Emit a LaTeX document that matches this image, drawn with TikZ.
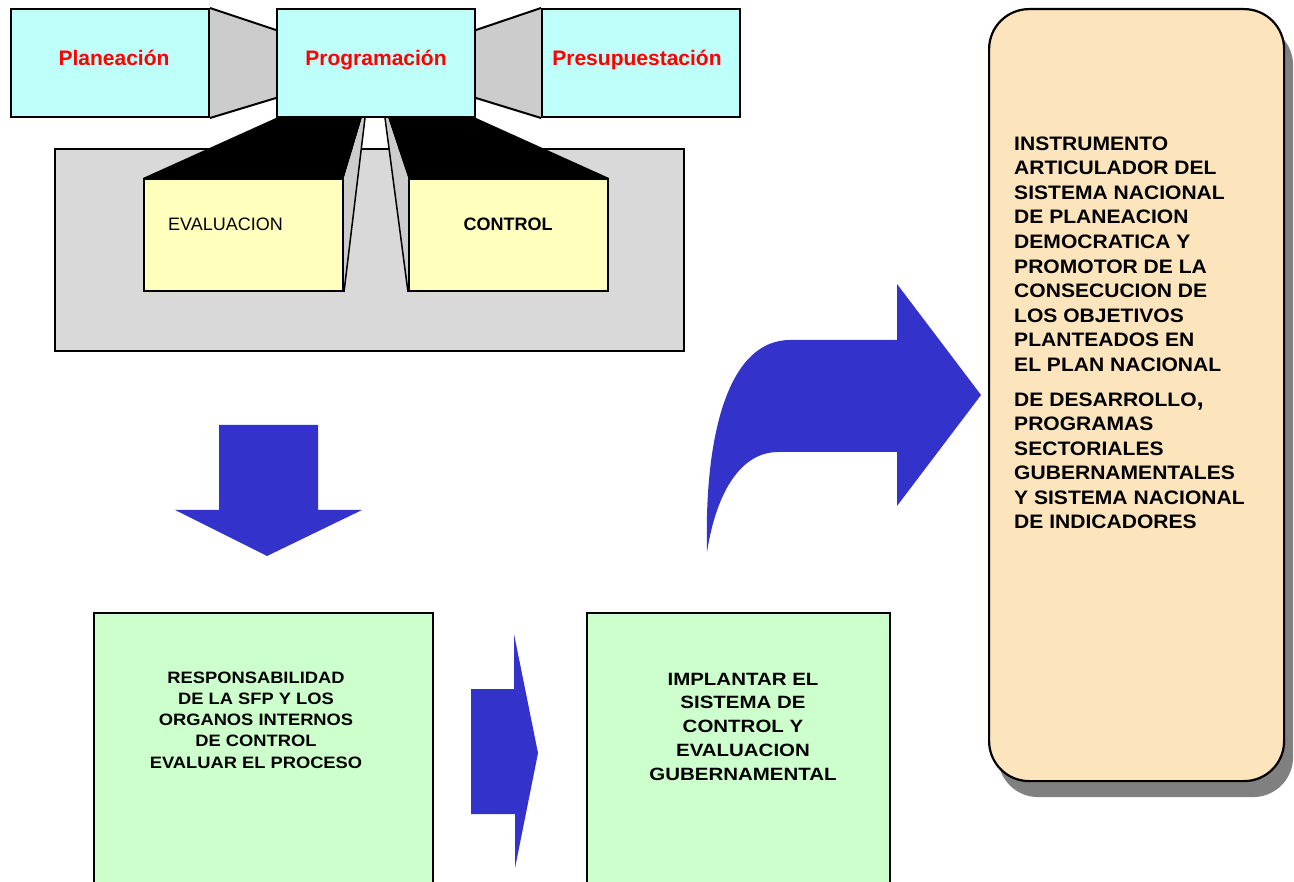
\documentclass[tikz,border=0pt]{standalone}
\usepackage{fontspec}
\setmainfont{Liberation Sans}
\newfontfamily\fwideA[FakeStretch=1.11]{Liberation Sans}
\newfontfamily\fwideB[FakeStretch=1.15]{Liberation Sans}
\newfontfamily\fwideC[FakeStretch=1.08]{Liberation Sans}
\usetikzlibrary{calc,shadows}
\definecolor{cyanbox}{RGB}{191,255,250}
\definecolor{yellowbox}{RGB}{255,255,190}
\definecolor{panelgray}{RGB}{217,217,217}
\definecolor{sidegray}{RGB}{204,204,204}
\definecolor{greenbox}{RGB}{204,255,204}
\definecolor{peachbox}{RGB}{252,228,188}
\definecolor{shadowgray}{RGB}{128,128,128}
\definecolor{arrowblue}{RGB}{51,51,204}
\definecolor{titlered}{RGB}{255,0,0}
\begin{document}
\begin{tikzpicture}[x=1pt,y=-1pt,
  box/.style={draw=black, line width=2pt, inner sep=0pt, anchor=north west},
  topbox/.style={box, fill=cyanbox, minimum width=198pt, minimum height=108pt},
  subbox/.style={box, fill=yellowbox, minimum width=199pt, minimum height=112pt},
  greenpanel/.style={box, fill=greenbox, line width=1.5pt},
  edge/.style={draw=black, line width=2pt},
  blockarrow/.style={fill=arrowblue},
  title/.style={anchor=base, text=titlered, font=\bfseries\fontsize{21}{25}\selectfont},
]
\useasboundingbox (0,0) rectangle (1294,882);
\clip (0,0) rectangle (1294,882);

% background panel behind the two sub-processes
\node[box, fill=panelgray, minimum width=629pt, minimum height=202pt] (panel) at (54,148) {};

% sub-process boxes
\node[subbox] (eval) at (143,178) {};
\node[subbox] (ctrl) at (408,178) {};

% top row boxes
\node[topbox] (plan) at (10,8) {};
\node[topbox] (prog) at (276,8) {};
\node[topbox] (pres) at (541,8) {};

% extruded faces from Programacion down to the sub-process boxes
\coordinate (la) at ($(prog.south west)+(86,0)$);
\coordinate (lb) at ($(prog.south west)+(89,0)$);
\coordinate (ra) at ($(prog.south east)+(-88,0)$);
\coordinate (rb) at ($(prog.south east)+(-91,0)$);
\fill[black] (prog.south west) -- (la) -- (eval.north east) -- (eval.north west) -- cycle;
\fill[sidegray] (la) -- (lb) -- (eval.south east) -- (eval.north east) -- cycle;
\draw[edge, line width=1.5pt] (lb) -- (eval.south east);
\fill[black] (prog.south east) -- (ra) -- (ctrl.north west) -- (ctrl.north east) -- cycle;
\fill[sidegray] (ra) -- (rb) -- (ctrl.south west) -- (ctrl.north west) -- cycle;
\draw[edge, line width=1.5pt] (rb) -- (ctrl.south west);
\node[subbox] at (143,178) {};
\node[subbox] at (408,178) {};

% links between the top row boxes
\coordinate (plt) at ($(prog.north west)+(0,22)$);
\coordinate (plb) at ($(prog.south west)+(0,-20)$);
\coordinate (prt) at ($(prog.north east)+(0,22)$);
\coordinate (prb) at ($(prog.south east)+(0,-20)$);
\fill[sidegray] (plan.north east) -- (plt) -- (plb) -- (plan.south east) -- cycle;
\draw[edge] (plan.north east) -- (plt);
\draw[edge] (plan.south east) -- (plb);
\fill[sidegray] (pres.north west) -- (prt) -- (prb) -- (pres.south west) -- cycle;
\draw[edge] (pres.north west) -- (prt);
\draw[edge] (pres.south west) -- (prb);
\node[topbox] at (10,8) {};
\node[topbox] at (276,8) {};
\node[topbox] at (541,8) {};

% titles
\node[title] (tplan) at (114,66) {Planeación};
\node[title] (tprog) at (376,66) {Programación};
\node[title] (tpres) at (637,66) {Presupuestación};
\node[anchor=base west, inner sep=0pt, font=\fontsize{18}{21}\selectfont] (teval) at (168,231) {EVALUACION};
\node[anchor=base, inner sep=0pt, font=\bfseries\fontsize{18}{21}\selectfont] (tctrl) at (508,231) {CONTROL};

% lower boxes (the base anchor of a multi-line text sits on its last line)
\node[greenpanel, minimum width=339pt, minimum height=300pt] (resp) at (93,612) {};
\node[greenpanel, minimum width=303pt, minimum height=300pt] (impl) at (586,612) {};
\node[anchor=base, align=center, inner sep=0pt, font=\fwideA\bfseries\fontsize{16.5}{21.2}\selectfont] (tresp) at (256,768)
  {RESPONSABILIDAD\\DE LA SFP Y LOS\\ORGANOS INTERNOS\\DE CONTROL\\EVALUAR EL PROCESO};
\node[anchor=base, align=center, inner sep=0pt, font=\fwideB\bfseries\fontsize{17.8}{23.75}\selectfont] (timpl) at (743,780)
  {IMPLANTAR EL\\SISTEMA DE\\CONTROL Y\\EVALUACION\\GUBERNAMENTAL};

% rounded information box with shadow
\node[box, fill=peachbox, line width=2.2pt, rounded corners=40pt, minimum width=295pt, minimum height=772pt,
  drop shadow={shadow xshift=9pt, shadow yshift=-16pt, fill=shadowgray, opacity=1}] (info) at (988,8) {};
\node[anchor=base west, align=left, inner sep=0pt, font=\fwideC\bfseries\fontsize{19.5}{24.6}\selectfont] (tinfo) at (1014,529)
  {INSTRUMENTO\\ARTICULADOR DEL\\SISTEMA NACIONAL\\DE PLANEACION\\DEMOCRATICA Y\\PROMOTOR DE LA\\CONSECUCION DE\\LOS OBJETIVOS\\PLANTEADOS EN\\EL PLAN NACIONAL\\[10pt]DE DESARROLLO{\fontsize{24}{24}\selectfont,}\\PROGRAMAS\\SECTORIALES\\GUBERNAMENTALES\\Y SISTEMA NACIONAL\\DE INDICADORES};

% block arrows
\fill[blockarrow] (219,425) -- (318,425) -- (318,510) -- (362,510) -- (267,556) -- (175,510) -- (219,510) -- cycle;
\fill[blockarrow] (471,689) -- (514,689) -- (514,634) -- (538,753) -- (515,868) -- (515,814) -- (471,814) -- cycle;
\fill[blockarrow] (707,552) .. controls (704,430) and (730,340) .. (790,340) -- (897,340) -- (897,284)
  -- (981,395) -- (897,506) -- (897,452) -- (778,452) .. controls (743,452) and (717,488) .. (707,552) -- cycle;
\end{tikzpicture}
\end{document}
